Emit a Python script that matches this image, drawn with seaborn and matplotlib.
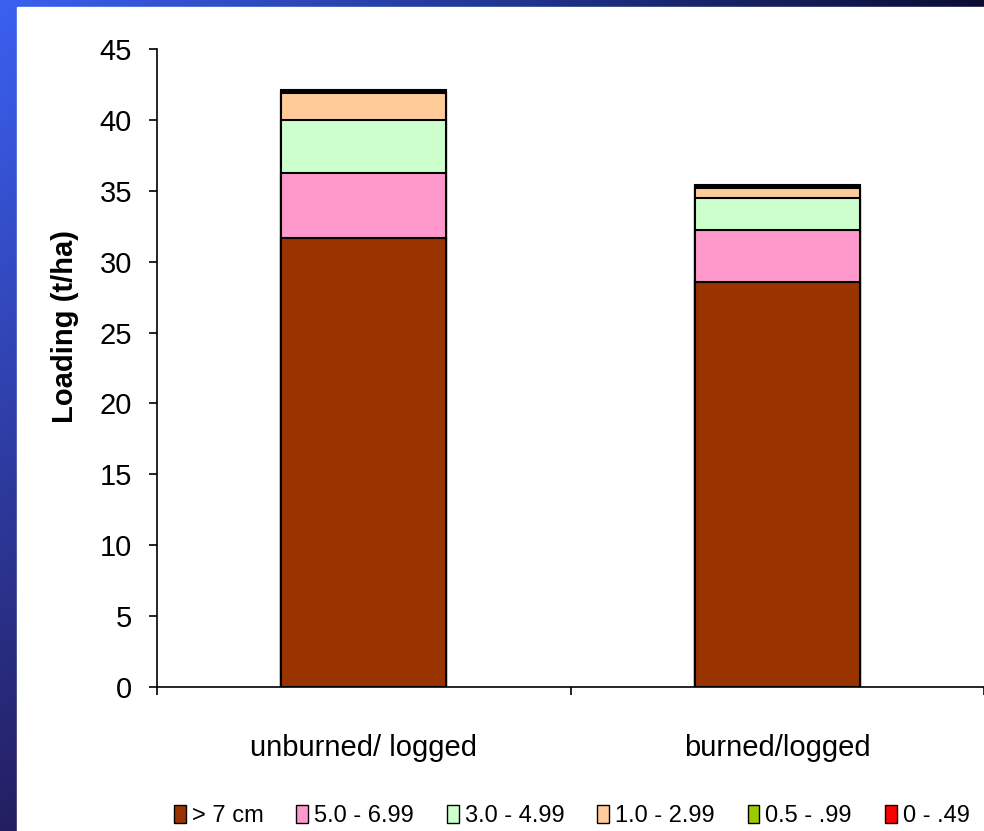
import numpy as np
import pandas as pd
import matplotlib
import matplotlib.pyplot as plt
import seaborn as sns
from matplotlib.patches import Patch

matplotlib.use('Agg')

# treatments and fuel size classes
treatments = ["unburned/ logged", "burned/logged"]
size_classes = ["> 7 cm", "5.0 - 6.99", "3.0 - 4.99", "1.0 - 2.99", "0.5 - .99", "0 - .49"]
colors = ["#993300", "#ff99cc", "#ccffcc", "#ffcc99", "#99cc00", "#ff0000"]

# loading (t/ha) per size class
over_7 = [31.7, 28.6]
cls_5_7 = [4.55, 3.6]
cls_3_5 = [3.75, 2.3]
cls_1_3 = [1.9, 0.7]
cls_05_1 = [0.1, 0.1]
cls_0_05 = [0.1, 0.1]

layers = [over_7, cls_5_7, cls_3_5, cls_1_3, cls_05_1, cls_0_05]

sns.set_style("white")
plt.rcParams['font.family'] = ['Liberation Sans', 'DejaVu Sans']
plt.rcParams['text.color'] = 'black'
plt.rcParams['axes.labelcolor'] = 'black'
plt.rcParams['xtick.color'] = 'black'
plt.rcParams['ytick.color'] = 'black'

fig = plt.figure(figsize=(9.84, 8.31), dpi=100)

# slide background: blue gradient framing the white panel
bg = fig.add_axes([0, 0, 1, 1])
h, w = 831, 984
yy, xx = np.mgrid[0:h, 0:w]
fx = xx / w
fy = yy / h
left_col = np.array([0.23, 0.38, 0.95])
bot_col = np.array([0.14, 0.12, 0.38])
right_col = np.array([0.04, 0.05, 0.20])
img = (left_col[None, None, :] * (1 - fx[..., None]) * (1 - fy[..., None])
       + bot_col[None, None, :] * (1 - fx[..., None]) * fy[..., None]
       + right_col[None, None, :] * fx[..., None])
bg.imshow(np.clip(img, 0, 1), aspect='auto', extent=[0, 1, 0, 1])
bg.add_patch(plt.Rectangle((17 / w, 0), 1, 1 - 7 / h, color='white', zorder=2))
bg.set_xlim(0, 1)
bg.set_ylim(0, 1)
bg.axis('off')

ax = fig.add_axes([157 / 984, 1 - 687 / 831, 1 - 157 / 984, (687 - 49) / 831])
ax.patch.set_alpha(0)

cum = np.cumsum(np.array(layers), axis=0)
# draw cumulative totals from the top down so each layer sits on the one below
for i in range(len(layers) - 1, -1, -1):
    df = pd.DataFrame({"treatment": treatments, "value": cum[i]})
    sns.barplot(data=df, x="treatment", y="value", color=colors[i], width=0.4,
                edgecolor="black", linewidth=1.5, saturation=1, ax=ax, zorder=3 + (6 - i))

ax.set_xlim(-0.5, 1.5)
ax.set_ylim(0, 45)
ax.set_yticks(range(0, 46, 5))
ax.set_yticklabels([str(v) for v in range(0, 46, 5)], fontsize=21)
ax.set_xticks([-0.5, 0.5, 1.5], minor=False)
ax.set_xticklabels([])
ax.set_xticks([0, 1], minor=True)
ax.set_xticklabels(treatments, minor=True, fontsize=21)
ax.tick_params(axis='x', which='minor', bottom=True, length=0, pad=34, labelcolor='black')
ax.tick_params(axis='x', which='major', bottom=True, direction='out', length=6, width=1.2, color='black')
ax.tick_params(axis='y', left=True, direction='out', length=6, width=1.2, color='black',
               pad=12, labelcolor='black')
ax.set_xlabel("")
ax.set_ylabel("Loading (t/ha)", fontsize=21, fontweight='bold', color='black')
ax.yaxis.set_label_coords(-0.094, 0.565)
for s in ['top', 'right']:
    ax.spines[s].set_visible(False)
for s in ['left', 'bottom']:
    ax.spines[s].set_color('black')
    ax.spines[s].set_linewidth(1.2)

handles = [Patch(facecolor=c, edgecolor='black', linewidth=1) for c in colors]
fig.legend(handles, size_classes, loc='center', bbox_to_anchor=(0.581, 1 - 816 / 831),
           ncol=6, frameon=False, fontsize=17, handlelength=0.5, handleheight=0.8,
           handletextpad=0.25, columnspacing=1.4, labelcolor='black')

fig.savefig("out.png", dpi=100)
